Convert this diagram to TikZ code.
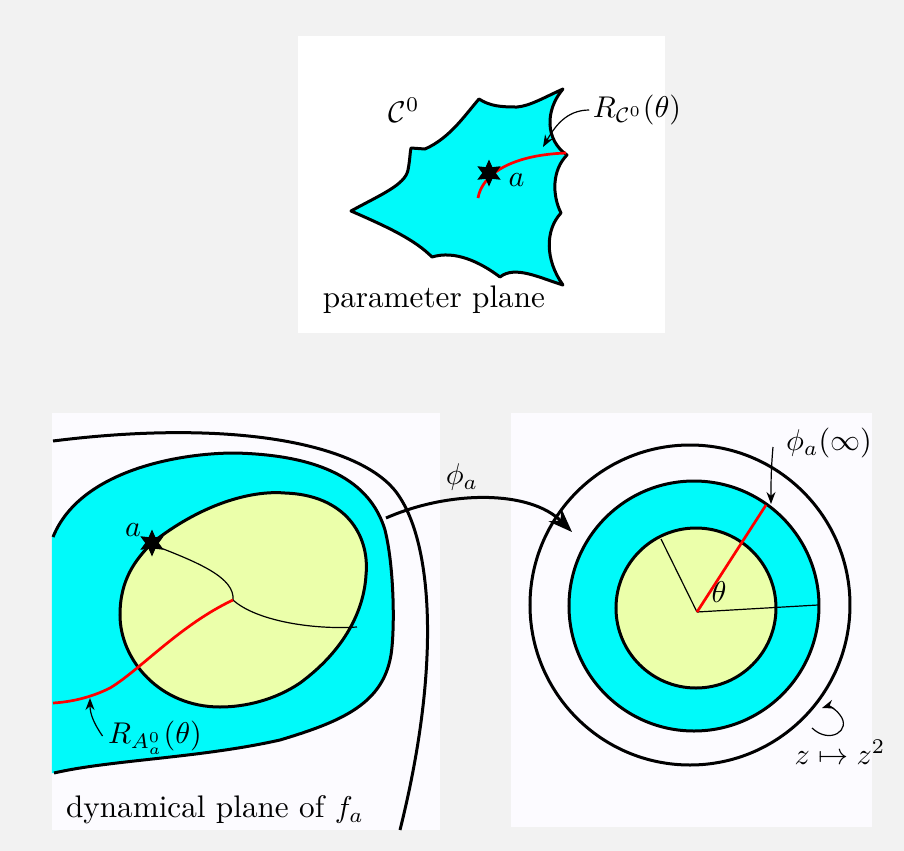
\documentclass[tikz,border=0pt]{standalone}
\usetikzlibrary{shapes.geometric,arrows.meta}
\definecolor{bggray}{RGB}{242,242,242}
\definecolor{panelw}{RGB}{252,251,255}
\definecolor{cyanC}{RGB}{0,250,250}
\definecolor{paleY}{RGB}{235,255,170}
\begin{document}
\begin{tikzpicture}[x=0.3333pt,y=-0.3333pt,
  font=\fontsize{10.4}{12}\selectfont,
  bold/.style={line width=1pt, line join=round},
  thinl/.style={line width=0.4pt},
  redray/.style={line width=0.9pt, red},
  starmark/.style={star, star points=6, star point ratio=2, fill=black, inner sep=0pt, minimum size=9pt},
  lbl/.style={inner sep=1pt},
  smallarrow/.style={thinl, -{Stealth[length=4pt,width=3pt]}}]
\useasboundingbox (0,0) rectangle (904,851);
\fill[bggray] (0,0) rectangle (904,851);
\fill[white] (298,36) rectangle (665,333);
\fill[panelw] (52,413) rectangle (440,830);
\fill[panelw] (511,413) rectangle (872,827);

% ---------- parameter plane ----------
\filldraw[fill=cyanC, bold]
  (351,211) .. controls (380,195) and (405,185) .. (408,170)
  .. controls (410,160) and (410,152) .. (411,148)
  -- (425,149) .. controls (450,138) and (465,115) .. (479,99)
  .. controls (490,106) and (500,107) .. (517,107)
  .. controls (530,106) and (545,97) .. (563,89)
  .. controls (545,110) and (545,140) .. (567,155)
  .. controls (552,170) and (552,195) .. (561,213)
  .. controls (545,230) and (545,260) .. (563,285)
  .. controls (540,278) and (515,265) .. (500,277)
  .. controls (480,262) and (455,250) .. (432,257)
  .. controls (415,240) and (390,228) .. (351,211) -- cycle;
\draw[redray] (478,198) .. controls (482,175) and (510,155) .. (566,153);
\node[starmark] (astarP) at (489,173) {};
\node[lbl, anchor=west] (aP) at (505,180) {$a$};
\node (C0) at (404,110) {$\mathcal{C}^0$};
\node[lbl] (RC) at (637,110) {$R_{\mathcal{C}^0}(\theta)$};
\coordinate (RCtip) at (543,147);
\draw[smallarrow] (RC.west) to[out=180,in=60] (RCtip);
\node (pp) at (434,300) {parameter plane};

% ---------- dynamical plane ----------
\draw[bold] (53,441) .. controls (220,420) and (345,440) .. (390,485)
  .. controls (430,525) and (445,650) .. (400,830);
\fill[cyanC] (53,537) .. controls (80,470) and (180,453) .. (235,453)
  .. controls (320,455) and (370,480) .. (385,530)
  .. controls (395,570) and (395,640) .. (390,660)
  .. controls (380,705) and (340,722) .. (280,740)
  .. controls (200,758) and (110,760) .. (54,773) -- (52,773) -- (52,537) -- cycle;
\draw[bold] (53,537) .. controls (80,470) and (180,453) .. (235,453)
  .. controls (320,455) and (370,480) .. (385,530)
  .. controls (395,570) and (395,640) .. (390,660)
  .. controls (380,705) and (340,722) .. (280,740)
  .. controls (200,758) and (110,760) .. (54,773);
\filldraw[fill=paleY, bold] (152,543) .. controls (200,505) and (250,490) .. (285,493)
  .. controls (345,495) and (370,535) .. (366,575)
  .. controls (364,610) and (345,650) .. (300,683)
  .. controls (275,700) and (245,707) .. (220,707)
  .. controls (160,707) and (120,660) .. (120,615)
  .. controls (120,580) and (135,560) .. (152,543) -- cycle;
\coordinate (cen) at (233,600);
\draw[thinl] (153,545) .. controls (200,563) and (235,578) .. (cen);
\draw[thinl] (cen) .. controls (255,620) and (310,630) .. (357,627);
\draw[redray] (cen) .. controls (180,625) and (140,670) .. (110,688)
  .. controls (90,698) and (70,702) .. (53,703);
\node[starmark] (astarD) at (152,543) {};
\node[lbl] (aD) at (133,530) {$a$};
\node[lbl] (RA) at (155,738) {$R_{A^0_a}(\theta)$};
\coordinate (RAtip) at (90,698);
\draw[smallarrow] (RA.west) ++(-2,-2) to[out=125,in=-90] (RAtip);
\node (dp) at (215,810) {dynamical plane of $f_a$};

% ---------- phi arrow ----------
\node[lbl] (phi) at (462,477) {$\phi_a$};
\coordinate (phiS) at (386,518);
\coordinate (phiE) at (572,532);
\draw[bold, -{Stealth[length=8pt,width=6pt]}] (phiS) .. controls (450,490) and (530,490) .. (phiE);

% ---------- right plane ----------
\draw[bold] (690,605) circle[radius=160];
\filldraw[fill=cyanC, bold] (694,606) circle[radius=125];
\filldraw[fill=paleY, bold] (696,608) circle[radius=80];
\coordinate (O) at (697,612);
\draw[thinl] (O) -- (661,539);
\draw[thinl] (O) -- (818,605);
\draw[redray] (O) -- (766,505);
\node[lbl] (th) at (719,592) {$\theta$};
\node[lbl] (phiinf) at (829,443) {$\phi_a(\infty)$};
\coordinate (pitip) at (771,504);
\draw[smallarrow] (773,447) to[out=-95,in=90] (pitip);
\node[lbl] (zz) at (840,752) {$z\mapsto z^2$};
\coordinate (zs) at (812,728);
\coordinate (zt) at (822,708);
\draw[smallarrow] (zs) .. controls (830,745) and (852,730) .. (840,715) .. controls (835,708) and (828,706) .. (zt);
\end{tikzpicture}
\end{document}
